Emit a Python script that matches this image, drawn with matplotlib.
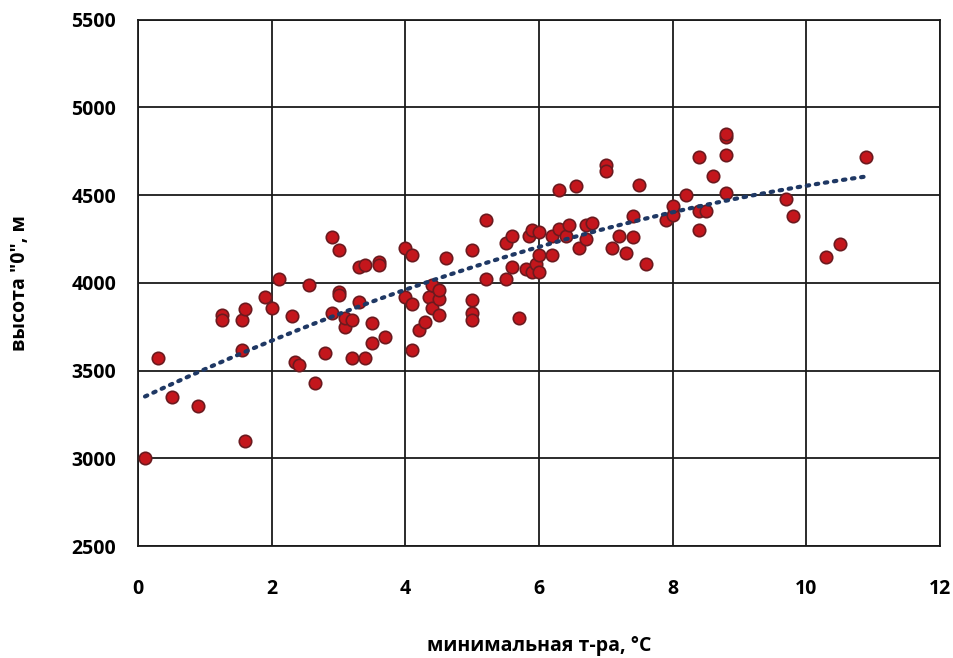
import numpy as np
import matplotlib.pyplot as plt

# минимальная температура, °C
t_min = [0.1, 0.3, 0.5, 0.9, 1.25, 1.25, 1.55, 1.55, 1.6, 1.6,
         1.9, 2.0, 2.1, 2.3, 2.35, 2.4, 2.55, 2.65, 2.8, 2.9,
         2.9, 3.0, 3.0, 3.0, 3.1, 3.1, 3.2, 3.2, 3.3, 3.3,
         3.4, 3.4, 3.5, 3.5, 3.6, 3.6, 3.7, 4.0, 4.0, 4.1,
         4.1, 4.1, 4.2, 4.3, 4.35, 4.4, 4.4, 4.5, 4.5, 4.5,
         4.6, 5.0, 5.0, 5.0, 5.0, 5.2, 5.2, 5.5, 5.5, 5.6,
         5.6, 5.7, 5.8, 5.85, 5.9, 5.9, 5.95, 6.0, 6.0, 6.0,
         6.2, 6.2, 6.3, 6.3, 6.4, 6.45, 6.55, 6.6, 6.7, 6.7,
         6.8, 7.0, 7.0, 7.1, 7.2, 7.3, 7.4, 7.4, 7.5, 7.6,
         7.9, 8.0, 8.0, 8.2, 8.4, 8.4, 8.4, 8.5, 8.6, 8.8,
         8.8, 8.8, 8.8, 9.7, 9.8, 10.3, 10.5, 10.9]

# высота нулевой изотермы, м
h_zero = [3000, 3570, 3350, 3300, 3820, 3790, 3790, 3620, 3850, 3100,
          3920, 3860, 4020, 3810, 3550, 3530, 3990, 3430, 3600, 3830,
          4260, 4190, 3950, 3930, 3750, 3800, 3790, 3570, 3890, 4090,
          4100, 3570, 3770, 3660, 4120, 4100, 3690, 4200, 3920, 4160,
          3880, 3620, 3730, 3780, 3920, 3990, 3860, 3910, 3820, 3960,
          4140, 4190, 3900, 3830, 3790, 4360, 4020, 4230, 4020, 4270,
          4090, 3800, 4080, 4270, 4060, 4300, 4110, 4160, 4060, 4290,
          4270, 4160, 4530, 4310, 4270, 4330, 4550, 4200, 4250, 4330,
          4340, 4670, 4640, 4200, 4270, 4170, 4260, 4380, 4560, 4110,
          4360, 4390, 4440, 4500, 4720, 4300, 4410, 4410, 4610, 4830,
          4850, 4730, 4510, 4480, 4380, 4150, 4220, 4720]

fig, ax = plt.subplots(figsize=(9.54, 6.58), dpi=100)
fig.subplots_adjust(left=0.145, right=0.985, bottom=0.17, top=0.97)

ax.scatter(t_min, h_zero, s=80, color='#c4161c', edgecolors='#6b1a1f',
           linewidths=1.2, zorder=3)

# полиномиальный тренд (2-й степени)
coef = np.polyfit(t_min, h_zero, 2)
xs = np.linspace(min(t_min), max(t_min), 200)
ax.plot(xs, np.polyval(coef, xs), color='#1f3864', linewidth=3,
        linestyle=(0, (0.6, 1.6)), dash_capstyle='round', zorder=4)

ax.set_xlim(0, 12)
ax.set_ylim(2500, 5500)
ax.set_xticks(range(0, 13, 2))
ax.set_yticks(range(2500, 5501, 500))
ax.grid(True, color='#1a1a1a', linewidth=1.3)
ax.set_axisbelow(True)
for sp in ax.spines.values():
    sp.set_color('#1a1a1a')
    sp.set_linewidth(1.3)
ax.tick_params(length=0, labelsize=14)
ax.tick_params(axis='x', pad=24)
ax.tick_params(axis='y', pad=16)
for lab in ax.get_xticklabels() + ax.get_yticklabels():
    lab.set_fontweight('bold')
    lab.set_fontfamily('Open Sans')

ax.set_xlabel('минимальная т-ра, °С', fontsize=14, fontweight='bold',
              family='Open Sans', labelpad=26)
ax.set_ylabel('высота "0", м', fontsize=14, fontweight='bold',
              family='Open Sans', labelpad=30)

plt.savefig('out.png', dpi=100)
